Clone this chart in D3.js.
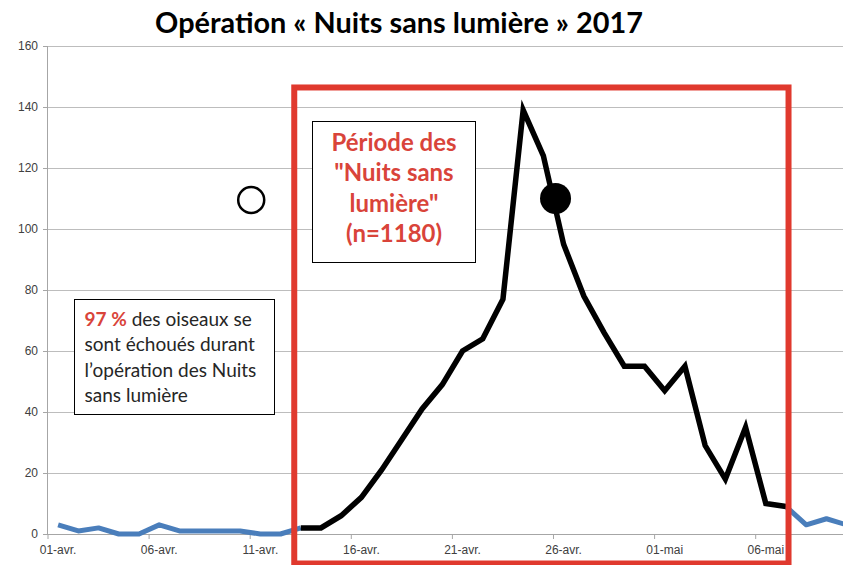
<!DOCTYPE html>
<html><head><meta charset="utf-8">
<script src="https://cdn.jsdelivr.net/npm/d3@7"></script>
<style>body{margin:0;background:#fff}svg{display:block}</style>
</head><body>
<svg id="c" width="843" height="565"></svg>
<script>
const dates = ["01-avr.","02-avr.","03-avr.","04-avr.","05-avr.","06-avr.","07-avr.","08-avr.","09-avr.","10-avr.",
 "11-avr.","12-avr.","13-avr.","14-avr.","15-avr.","16-avr.","17-avr.","18-avr.","19-avr.","20-avr.",
 "21-avr.","22-avr.","23-avr.","24-avr.","25-avr.","26-avr.","27-avr.","28-avr.","29-avr.","30-avr.",
 "01-mai","02-mai","03-mai","04-mai","05-mai","06-mai","07-mai","08-mai","09-mai","10-mai"];
const counts = [3,1,2,0,0,3,1,1,1,1,
 0,0,2,2,6,12,21,31,41,49,
 60,64,77,139,124,95,78,66,55,55,
 47,55,29,18,35,10,9,3,5,3];
const tickLabels = ["01-avr.","06-avr.","11-avr.","16-avr.","21-avr.","26-avr.","01-mai","06-mai"];
const yTicks = [0,20,40,60,80,100,120,140,160];
const periodStart = "13-avr.", periodEnd = "07-mai";
const title = "Opération « Nuits sans lumière » 2017";
const periodLines = ["Période des", "\"Nuits sans", "lumière\"", "(n=1180)"];
const noteLines = [["97 %", " des oiseaux se"], ["", "sont échoués durant"], ["", "l’opération des Nuits"], ["", "sans lumière"]];
// circle markers (position in day index, value)
const openMarker = {day: 9.55, value: 109.5};
const filledMarker = {day: 24.6, value: 110};

const svg = d3.select("#c");
const mLeft = 48, mBottom = 534, mTop = 46;
const step = 20.22;
const x = d3.scaleBand().domain(dates).range([mLeft, mLeft + step * dates.length]).padding(0);
const xc = d => x(d) + x.bandwidth() / 2;
const xi = i => x(dates[0]) + x.bandwidth() / 2 + i * x.step();
const y = d3.scaleLinear().domain([0, 160]).range([mBottom, mTop]);

// gridlines
svg.append("g").selectAll("line").data(yTicks.filter(t => t > 0)).join("line")
  .attr("x1", mLeft).attr("x2", 843).attr("y1", d => y(d) + 0.5).attr("y2", d => y(d) + 0.5)
  .attr("stroke", "#bdbdbd").attr("stroke-width", 1);

// y axis
const ya = svg.append("g").attr("transform", `translate(${mLeft},0)`)
  .call(d3.axisLeft(y).tickValues(yTicks).tickSize(5).tickPadding(5));
ya.select(".domain").attr("stroke", "#a6a6a6").attr("d", `M-0.5,${y(0)}V${y(160)}`);
ya.selectAll(".tick line").attr("stroke", "#a6a6a6");
ya.selectAll("text").attr("font-family", "Liberation Sans, Arial, sans-serif").attr("font-size", 12).attr("fill", "#404040");

// x axis
const xa = svg.append("g").attr("transform", `translate(0,${mBottom})`)
  .call(d3.axisBottom(x).tickValues(tickLabels).tickSize(0).tickPadding(11));
xa.select(".domain").attr("stroke", "#a6a6a6").attr("d", `M${mLeft},0.5H843`);
xa.selectAll("text").attr("font-family", "Liberation Sans, Arial, sans-serif").attr("font-size", 12).attr("fill", "#404040");
xa.selectAll(".tick").append("line").attr("x1", -x.bandwidth()/2).attr("x2", -x.bandwidth()/2)
  .attr("y1", 0).attr("y2", 5).attr("stroke", "#a6a6a6");

// lines
const pts = dates.map((d, i) => ({d, v: counts[i], i}));
const si = dates.indexOf(periodStart), ei = dates.indexOf(periodEnd);
const line = d3.line().x(p => xc(p.d)).y(p => y(p.v)).curve(d3.curveLinear);
const blue = "#4a7ebb";
svg.append("path").datum(pts.slice(0, si + 1)).attr("d", line)
  .attr("fill", "none").attr("stroke", blue).attr("stroke-width", 5).attr("stroke-linejoin", "round");
svg.append("path").datum(pts.slice(ei)).attr("d", line)
  .attr("fill", "none").attr("stroke", blue).attr("stroke-width", 5).attr("stroke-linejoin", "round");
svg.append("path").datum(pts.slice(si, ei + 1)).attr("d", line)
  .attr("fill", "none").attr("stroke", "#000").attr("stroke-width", 5.5).attr("stroke-linejoin", "miter");

// red period rectangle
const rx1 = xc(periodStart) - 6.5, rx2 = xc(periodEnd) + 2.5;
svg.append("rect").attr("x", rx1).attr("y", y(146.4)).attr("width", rx2 - rx1).attr("height", 563.5 - y(146.4))
  .attr("fill", "none").attr("stroke", "#e0392e").attr("stroke-width", 6);

// markers
svg.append("circle").attr("cx", xi(openMarker.day)).attr("cy", y(openMarker.value)).attr("r", 13)
  .attr("fill", "none").attr("stroke", "#000").attr("stroke-width", 2.5);
svg.append("circle").attr("cx", xi(filledMarker.day)).attr("cy", y(filledMarker.value)).attr("r", 15.5)
  .attr("fill", "#000");

function scaleFor(sel, target) {
  const w = sel.node().getComputedTextLength();
  return target / w;
}

// period box
svg.append("rect").attr("x", 312.5).attr("y", 121.5).attr("width", 163).attr("height", 141)
  .attr("fill", "#fff").attr("stroke", "#000").attr("stroke-width", 1);
const pb = [150.7, 181.2, 211.5, 241.5];
const pTexts = periodLines.map((t, k) =>
  svg.append("text").attr("x", 394).attr("y", pb[k]).attr("text-anchor", "middle")
    .attr("font-family", "Lato, 'Open Sans', sans-serif").attr("font-weight", "bold").attr("font-size", 21)
    .attr("fill", "#d9443a").text(t));
const pk = scaleFor(pTexts[0], 125);
pTexts.forEach(s => s.attr("font-size", 21 * pk));

// note box
svg.append("rect").attr("x", 74.5).attr("y", 299.5).attr("width", 200).attr("height", 115)
  .attr("fill", "#fff").attr("stroke", "#000").attr("stroke-width", 1);
const nb = [325.5, 351, 377, 402];
const nTexts = noteLines.map((parts, k) => {
  const t = svg.append("text").attr("x", 84.5).attr("y", nb[k])
    .attr("font-family", "Lato, 'Open Sans', sans-serif").attr("font-size", 17.5).attr("fill", "#262626");
  if (parts[0]) t.append("tspan").attr("fill", "#d9443a").attr("font-weight", "bold").text(parts[0]);
  t.append("tspan").text(parts[1]);
  return t;
});
const nk = Math.min(scaleFor(nTexts[1], 171), scaleFor(nTexts[2], 172));
nTexts.forEach(s => s.attr("font-size", 17.5 * nk));

// title
const tt = svg.append("text").attr("x", 399).attr("y", 33).attr("text-anchor", "middle")
  .attr("font-family", "Lato, 'Open Sans', sans-serif").attr("font-weight", "bold").attr("font-size", 26)
  .attr("fill", "#000").text(title);
tt.attr("font-size", 26 * scaleFor(tt, 488));
</script>
</body></html>
